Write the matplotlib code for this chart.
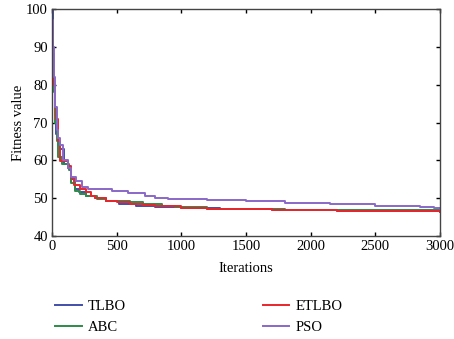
import numpy as np
import matplotlib
matplotlib.use("Agg")
import matplotlib.pyplot as plt

# === Input data (step breakpoints: iteration, fitness) ===
tlbo_it = [0, 5, 12, 20, 30, 45, 60, 90, 120, 150, 175, 210, 260, 330, 420, 520, 650, 800, 1000, 1300, 1700, 2200, 2700, 3000]
tlbo_val = [100, 88, 80, 72, 67, 64, 63, 59, 58, 55, 52.5, 51.5, 50.5, 50, 49.2, 48.5, 48, 47.6, 47.3, 47.1, 46.9, 46.7, 46.6, 46.5]

abc_it = [0, 6, 14, 24, 35, 50, 80, 130, 150, 180, 220, 260, 350, 420, 600, 700, 850, 950, 1200, 1800, 2500, 3000]
abc_val = [95, 86, 78, 70, 65, 61, 59, 57.5, 54, 52, 51, 50.5, 49.7, 49.3, 49.0, 48.5, 48, 47.6, 47.2, 47.0, 46.8, 46.7]

etlbo_it = [0, 5, 15, 25, 33, 45, 59, 124, 144, 170, 214, 260, 300, 330, 420, 500, 600, 700, 800, 1000, 1200, 1700, 2200, 2600, 3000]
etlbo_val = [93, 84, 80, 74, 71, 65, 59.8, 58.5, 55.2, 53.5, 52.3, 51.7, 50.5, 50, 49.3, 49, 48.5, 48.1, 47.8, 47.4, 47.2, 46.9, 46.6, 46.5, 46.4]

pso_it = [0, 8, 15, 25, 36, 46, 60, 85, 124, 150, 188, 229, 278, 461, 590, 719, 800, 900, 1200, 1500, 1800, 2150, 2500, 2845, 2950, 3000]
pso_val = [97, 90, 82, 74, 68, 66, 64, 60, 58, 55.5, 54.5, 53, 52.3, 52.0, 51.3, 50.6, 50.1, 49.7, 49.5, 49.2, 48.8, 48.4, 48.0, 47.7, 47.3, 47.2]

series = [
    ("TLBO", tlbo_it, tlbo_val, "#4050a8"),
    ("ABC", abc_it, abc_val, "#2e8b4a"),
    ("ETLBO", etlbo_it, etlbo_val, "#e8262c"),
    ("PSO", pso_it, pso_val, "#8a68c8"),
]

plt.rcParams["font.family"] = ["Liberation Serif", "DejaVu Serif"]

fig = plt.figure(figsize=(4.54, 3.39), dpi=100)
ax = fig.add_axes([52 / 454, 103 / 339, 388 / 454, 227 / 339])

handles = {}
for name, it, val, color in series:
    ln, = ax.plot(it, val, drawstyle="steps-post", color=color, linewidth=1.4)
    handles[name] = ln

ax.set_xlim(0, 3000)
ax.set_ylim(40, 100)
ax.set_xticks(np.arange(0, 3001, 500))
ax.set_yticks(np.arange(40, 101, 10))
ax.tick_params(direction="in", top=True, right=True, labelsize=10.5, length=3, width=1, pad=3)
for sp in ax.spines.values():
    sp.set_color("#444444")
    sp.set_linewidth(1.0)
ax.set_xlabel("Iterations", fontsize=10.5, labelpad=6)
ax.set_ylabel("Fitness value", fontsize=10.5, labelpad=1)

# === Legend (column-major: TLBO/ABC left, ETLBO/PSO right) ===
order = ["TLBO", "ABC", "ETLBO", "PSO"]
fig.legend([handles[k] for k in order], order, ncol=2, frameon=False,
           loc="upper left", bbox_to_anchor=(48 / 454, 1 - 293 / 339),
           fontsize=10.5, handlelength=1.8, handletextpad=0.45,
           columnspacing=9.35, labelspacing=0.5, borderpad=0)

fig.savefig("out.png", dpi=100)
